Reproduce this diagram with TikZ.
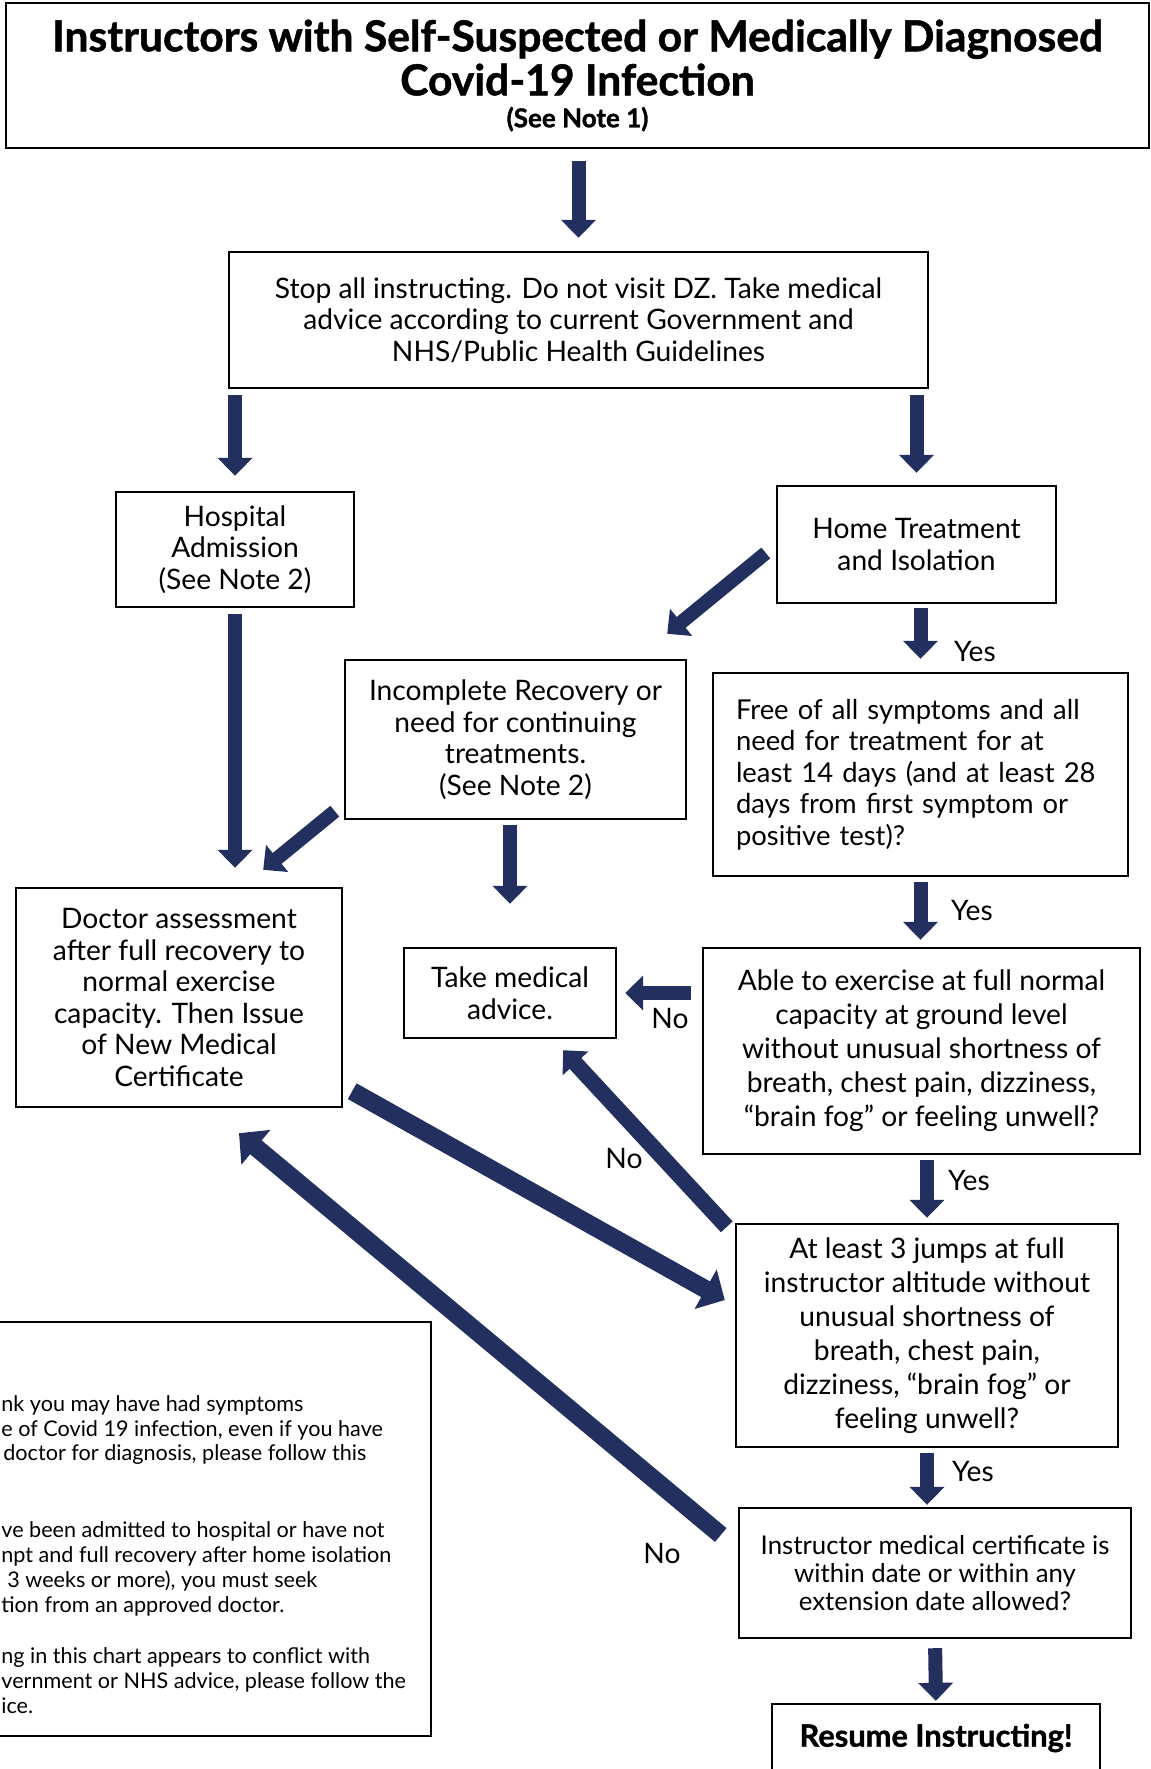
\documentclass[tikz,border=0pt]{standalone}
\usepackage{fontspec}
\setmainfont{Lato}
\usetikzlibrary{arrows.meta}
\definecolor{navy}{RGB}{35,47,94}
\newcommand{\bodysize}{\fontsize{14.1}{15.8}\selectfont}
\newcommand{\tallsize}{\fontsize{14.1}{17}\selectfont}
\newcommand{\certsize}{\fontsize{12.9}{14}\selectfont}
\newcommand{\notesize}{\fontsize{10.8}{12.4}\selectfont}
\newcommand{\titlesize}{\fontsize{21.3}{22}\selectfont}
\newcommand{\heavy}{\bfseries\addfontfeatures{FakeBold=1.2}}
\tikzset{
  box/.style = {draw, line width=1.2pt, align=center, inner sep=0pt, font=\bodysize},
  arr/.style = {draw=navy, line width=7pt, -{Triangle[width=17pt,length=9pt]}},
  bigarr/.style = {arr, line width=9pt, -{Triangle[width=22pt,length=11pt]}},
  lbl/.style = {font=\bodysize, inner sep=0pt}
}

\begin{document}
\begin{tikzpicture}[x=0.5pt,y=-0.5pt]
  \useasboundingbox[fill=white] (0,0) rectangle (1151,1769);
  % boxes
  \node[box, minimum width=571.5pt, minimum height=72.5pt, font=\titlesize\heavy] (title) at (577.5,75.5)
    {Instructors with Self-Suspected or Medically Diagnosed\\Covid-19 Infection\\[-6pt]{\fontsize{13}{13}\selectfont(See Note 1)}};
  \node[box, minimum width=349.5pt, minimum height=68pt] (stop) at (578.5,320)
    {Stop all instructing. Do not visit DZ. Take medical\\advice according to current Government and\\NHS/Public Health Guidelines};
  \node[box, minimum width=119pt, minimum height=57.5pt] (hospital) at (235,549.5)
    {Hospital\\Admission\\(See Note 2)};
  \node[box, minimum width=139.5pt, minimum height=58.5pt] (home) at (916.5,544.5)
    {Home Treatment\\and Isolation};
  \node[box, minimum width=170.5pt, minimum height=79.5pt] (incomplete) at (515.5,739.5)
    {Incomplete Recovery or\\need for continuing\\treatments.\\(See Note 2)};
  \node[box, align=left, text width=184.5pt, inner xsep=11.5pt, minimum height=101.5pt, font=\fontsize{13.7}{15.8}\selectfont] (free) at (920.5,774.5)
    {Free of all symptoms and all\\need for treatment for at\\least 14 days (and at least 28\\days from first symptom or\\positive test)?};
  \node[box, minimum width=163pt, minimum height=109.5pt] (doctor) at (179,997.5)
    {Doctor assessment\\after full recovery to\\normal exercise\\capacity. Then Issue\\of New Medical\\Certificate};
  \node[box, minimum width=106pt, minimum height=45pt] (take) at (510,993)
    {Take medical\\advice.};
  \node[box, minimum width=218.5pt, minimum height=103pt, font=\tallsize] (able) at (921.5,1051)
    {Able to exercise at full normal\\capacity at ground level\\without unusual shortness of\\breath, chest pain, dizziness,\\“brain fog” or feeling unwell?};
  \node[box, minimum width=191pt, minimum height=111.5pt, font=\tallsize] (jumps) at (927,1335.5)
    {At least 3 jumps at full\\instructor altitude without\\unusual shortness of\\breath, chest pain,\\dizziness, “brain fog” or\\feeling unwell?};
  \node[box, minimum width=196pt, minimum height=65pt, font=\certsize] (cert) at (935,1573)
    {Instructor medical certificate is\\within date or within any\\extension date allowed?};
  \node[box, minimum width=164pt, minimum height=34pt, font=\fontsize{15.4}{17}\selectfont\heavy] (resume) at (936,1738)
    {Resume Instructing!};
  % notes, cut off at the left edge
  \node[box, minimum width=366pt, minimum height=207pt, anchor=north east] (notes) at (432,1321) {};
  \node[anchor=north west, align=left, inner sep=0pt, font=\notesize] (notetext) at (1,1395)
    {nk you may have had symptoms\\
     e of Covid 19 infection, even if you have\\
     \hspace{1pt}doctor for diagnosis, please follow this\\[26pt]
     ve been admitted to hospital or have not\\
     npt and full recovery after home isolation\\
     \hspace{3pt}3 weeks or more), you must seek\\
     tion from an approved doctor.\\[13.5pt]
     ng in this chart appears to conflict with\\
     vernment or NHS advice, please follow the\\
     ice.};
  % straight arrows
  \draw[arr, shorten <=6pt, shorten >=6.5pt] (title.south -| stop.north) -- (stop.north);
  \draw[arr, shorten <=3pt, shorten >=7.5pt] (stop.south -| hospital.north) -- (hospital.north);
  \draw[arr, shorten <=3pt, shorten >=6pt] (stop.south -| home.north) -- (home.north);
  \draw[arr, shorten <=2pt, shorten >=6.5pt] (home.south -| free.north) -- (free.north);
  \draw[arr, shorten <=3pt, shorten >=9.5pt] (hospital.south) -- (hospital.south |- doctor.north);
  \draw[arr, shorten <=2.5pt, shorten >=21.5pt] (incomplete.south -| take.north) -- (take.north);
  \draw[arr, shorten <=2.5pt, shorten >=3.5pt] (free.south) -- (free.south |- able.north);
  \draw[arr, shorten <=5.5pt, shorten >=4pt] (able.west |- take.east) -- (take.east);
  \draw[arr, shorten <=2.5pt, shorten >=2.5pt] (able.south -| jumps.north) -- (jumps.north);
  \draw[arr, shorten <=2.5pt, shorten >=1pt] (jumps.south) -- (jumps.south |- cert.north);
  \draw[arr, shorten <=4.5pt, shorten >=1pt] (cert.south) -- (resume.north);
  % slanted arrows
  \draw[arr] ([shift={(-10,8.5)}]home.west) -- ([shift={(-20,-25)}]incomplete.north east);
  \draw[arr] ([shift={(-9,-9)}]incomplete.south west) -- ([shift={(-80,-17)}]doctor.north east);
  \draw[arr, line width=8pt] ([shift={(-8,4)}]jumps.north west) -- ([shift={(-54,11)}]take.south east);
  \draw[bigarr] ([shift={(9,-17)}]doctor.south east) -- ([shift={(-10,-35.5)}]jumps.west);
  \draw[bigarr] ([shift={(-17,-38)}]cert.west) -- ([shift={(60,25)}]doctor.south);
  % yes / no
  \node[lbl] (yes1) at (975,651) {Yes};
  \node[lbl] (yes2) at (972,910) {Yes};
  \node[lbl] (yes3) at (969,1180) {Yes};
  \node[lbl] (yes4) at (973,1471) {Yes};
  \node[lbl] (no1) at (670,1018) {No};
  \node[lbl] (no2) at (624,1158) {No};
  \node[lbl] (no3) at (662,1553) {No};
\end{tikzpicture}
\end{document}
